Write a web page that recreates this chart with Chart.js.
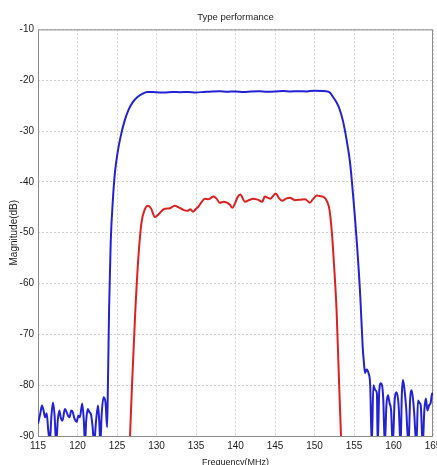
<!DOCTYPE html>
<html>
<head>
<meta charset="utf-8">
<script src="https://cdn.jsdelivr.net/npm/chart.js@4.4.1/dist/chart.umd.min.js"></script>
<style>
  html, body { margin: 0; padding: 0; background: #fff; overflow: hidden; }
  canvas { display: block; }
</style>
</head>
<body>
<canvas id="perf-chart" width="450" height="475"></canvas>
<script>
// tick labels
var xTicks = [115, 120, 125, 130, 135, 140, 145, 150, 155, 160, 165];
var yTicks = [-90, -80, -70, -60, -50, -40, -30, -20, -10];

// blue trace (wide filter)
var blueFreq = [
  115.0, 115.3, 115.5, 115.7, 115.9, 116.1, 116.3, 116.5, 116.7, 116.9,
  117.1, 117.3, 117.5, 117.7, 117.9, 118.1, 118.4, 118.6, 118.8, 119.0,
  119.2, 119.4, 119.6, 119.9, 120.1, 120.3, 120.6, 120.8, 120.95, 121.1,
  121.3, 121.5, 121.7, 121.9, 122.1, 122.35, 122.6, 122.75, 122.9, 123.05,
  123.3, 123.55, 123.75, 123.85, 124.0, 124.2, 124.5, 124.75, 125.1, 125.5,
  126.0, 126.5, 127.0, 127.6, 128.2, 128.8, 129.3, 129.8, 130.3, 131,
  132, 133, 134, 135, 136, 137, 138, 139, 140, 141,
  142, 143, 144, 145, 146, 147, 148, 149, 150, 151,
  151.6, 152.0, 152.3, 152.8, 153.2, 153.6, 153.9, 154.2, 154.5, 154.9,
  155.4, 155.8, 156.1, 156.25, 156.4, 156.6, 156.85, 157.05, 157.25, 157.45,
  157.7, 157.9, 158.0, 158.2, 158.4, 158.7, 158.9, 159.1, 159.3, 159.5,
  159.7, 159.9, 160.15, 160.4, 160.65, 160.9, 161.05, 161.2, 161.4, 161.6,
  161.9, 162.1, 162.3, 162.6, 162.9, 163.1, 163.3, 163.45, 163.7, 163.9,
  164.1, 164.3, 164.5, 164.7, 164.9, 165.0
];
var blueMag = [
  -87.6, -85.5, -84.0, -85.0, -86.3, -85.5, -88.9, -91.0, -86.0, -83.4,
  -86.0, -91.5, -87.0, -85.0, -86.5, -87.0, -84.7, -85.2, -86.0, -86.3,
  -85.0, -85.3, -86.5, -87.2, -86.0, -86.3, -83.6, -87.0, -91.5, -87.0,
  -84.7, -85.3, -85.7, -88.0, -91.5, -87.0, -84.0, -87.0, -91.5, -86.0,
  -82.4, -83.5, -88.3, -80.0, -65.0, -52.0, -43.0, -38.0, -34.0, -30.8,
  -27.8, -25.7, -24.3, -23.3, -22.7, -22.3, -22.3, -22.35, -22.4, -22.4,
  -22.3, -22.35, -22.3, -22.4, -22.3, -22.2, -22.15, -22.25, -22.2, -22.3,
  -22.2, -22.15, -22.25, -22.2, -22.1, -22.2, -22.15, -22.2, -22.05, -22.1,
  -22.2, -22.5, -23.2, -24.4, -25.8, -28.0, -30.3, -33.0, -36.2, -42.9,
  -52.8, -62.7, -72.5, -75.5, -77.6, -76.9, -77.7, -80.0, -92.0, -80.0,
  -81.0, -81.6, -92.0, -81.0, -79.6, -82.6, -92.0, -84.0, -82.0, -83.5,
  -85.0, -92.0, -83.0, -81.4, -84.0, -92.0, -82.0, -79.0, -81.0, -84.4,
  -92.0, -83.0, -81.0, -85.0, -92.0, -83.0, -83.5, -84.0, -92.0, -85.0,
  -82.6, -85.0, -84.0, -83.5, -81.6, -82.0
];

// red trace (narrow filter)
var redFreq = [
  126.6, 126.9, 127.3, 127.7, 128.1, 128.5, 128.9, 129.3, 129.8, 130.3,
  130.8, 131.1, 131.7, 132.3, 132.8, 133.4, 133.9, 134.3, 134.6, 135.0,
  135.3, 135.7, 136.1, 136.6, 137.2, 137.6, 138.0, 138.5, 138.9, 139.3,
  139.6, 140.0, 140.3, 140.6, 141.2, 141.7, 142.2, 142.8, 143.4, 143.7,
  144.4, 145.1, 145.5, 145.9, 146.4, 146.9, 147.5, 148.2, 148.8, 149.4,
  149.8, 150.3, 150.7, 151.1, 151.6, 151.9, 152.2, 152.5, 152.8, 153.1,
  153.4
];
var redMag = [
  -92.0, -80.0, -66.0, -55.0, -48.0, -45.5, -44.7, -45.2, -46.9, -46.3,
  -45.5, -45.3, -45.2, -44.7, -45.0, -45.5, -45.7, -45.4, -45.9, -45.3,
  -44.9, -44.0, -43.3, -43.4, -42.9, -43.3, -44.1, -43.9, -44.1, -44.5,
  -45.1, -44.0, -42.9, -42.5, -43.9, -43.6, -43.3, -43.5, -43.9, -42.9,
  -43.3, -42.3, -43.2, -43.7, -43.3, -43.1, -43.6, -43.5, -43.4, -44.1,
  -43.4, -42.7, -42.8, -42.9, -43.9, -45.5, -50.0, -57.0, -65.5, -79.0,
  -92.0
];

function toPoints(xs, ys) {
  return xs.map(function (x, i) { return { x: x, y: ys[i] }; });
}

// box around the axes, like matlab
var axesBox = {
  id: 'axesBox',
  beforeDatasetsDraw: function (chart) {
    var a = chart.chartArea;
    var ctx = chart.ctx;
    ctx.save();
    ctx.strokeStyle = '#8a8a8a';
    ctx.lineWidth = 1;
    ctx.strokeRect(a.left + 0.5, a.top + 0.5, a.right - a.left - 1, a.bottom - a.top);
    ctx.restore();
  }
};

var gridStyle = {
  color: '#d0d0d0',
  lineWidth: 1,
  drawTicks: false
};

new Chart(document.getElementById('perf-chart'), {
  type: 'line',
  data: {
    datasets: [
      {
        label: 'wide',
        data: toPoints(blueFreq, blueMag),
        borderColor: '#2222d4',
        borderWidth: 2,
        pointRadius: 0,
        cubicInterpolationMode: 'monotone'
      },
      {
        label: 'narrow',
        data: toPoints(redFreq, redMag),
        borderColor: '#dc2020',
        borderWidth: 2,
        pointRadius: 0,
        cubicInterpolationMode: 'monotone'
      }
    ]
  },
  options: {
    responsive: false,
    animation: false,
    layout: { padding: { left: 0, right: 17, top: 0, bottom: 0 } },
    plugins: {
      legend: { display: false },
      tooltip: { enabled: false },
      title: {
        display: true,
        text: 'Type performance',
        fullSize: false,
        color: '#222',
        font: { family: 'Liberation Sans', size: 9.5, weight: 'normal' },
        padding: { top: 12, bottom: 6 }
      }
    },
    scales: {
      x: {
        type: 'linear',
        min: 115,
        max: 165,
        grid: gridStyle,
        border: { display: false, dash: [2, 2] },
        ticks: {
          color: '#222',
          padding: 4,
          maxRotation: 0,
          font: { family: 'Liberation Sans', size: 10 }
        },
        title: {
          display: true,
          text: 'Frequency(MHz)',
          color: '#222',
          font: { family: 'Liberation Sans', size: 9 },
          padding: { top: 0, bottom: 7 }
        },
        afterBuildTicks: function (scale) {
          scale.ticks = xTicks.map(function (v) { return { value: v }; });
        },
        afterFit: function (scale) {
          scale.height = 39;
          scale.paddingLeft = 0;
          scale.paddingRight = 0;
        }
      },
      y: {
        min: -90,
        max: -10,
        grid: gridStyle,
        border: { display: false, dash: [2, 2] },
        ticks: {
          color: '#222',
          padding: 4,
          font: { family: 'Liberation Sans', size: 10 }
        },
        title: {
          display: true,
          text: 'Magnitude(dB)',
          color: '#222',
          font: { family: 'Liberation Sans', size: 10 },
          padding: { top: 8, bottom: 0 }
        },
        afterBuildTicks: function (scale) {
          scale.ticks = yTicks.map(function (v) { return { value: v }; });
        },
        afterFit: function (scale) {
          scale.width = 38;
          scale.paddingTop = 0;
          scale.paddingBottom = 0;
        }
      }
    }
  },
  plugins: [axesBox]
});
</script>
</body>
</html>
